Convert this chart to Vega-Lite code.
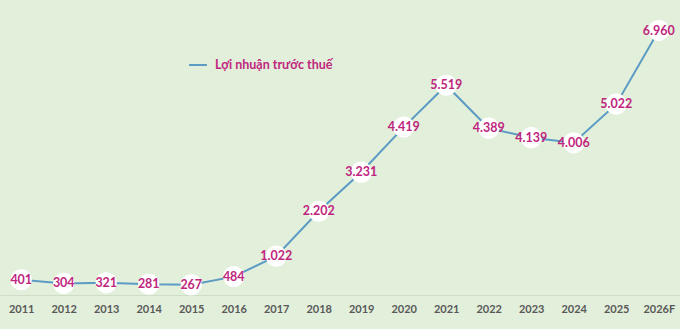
{
  "$schema": "https://vega.github.io/schema/vega-lite/v6.json",
  "width": 680,
  "height": 266,
  "autosize": {"type": "none"},
  "padding": {"left": 0, "top": 29, "right": 0, "bottom": 34},
  "background": "#e2efda",
  "config": {
    "view": {"stroke": null},
    "locale": {"number": {"decimal": ",", "thousands": ".", "grouping": [3], "currency": ["", ""]}}
  },
  "data": {
    "values": [
      {"nam": "2011", "loi_nhuan": 401},
      {"nam": "2012", "loi_nhuan": 304},
      {"nam": "2013", "loi_nhuan": 321},
      {"nam": "2014", "loi_nhuan": 281},
      {"nam": "2015", "loi_nhuan": 267},
      {"nam": "2016", "loi_nhuan": 484},
      {"nam": "2017", "loi_nhuan": 1022},
      {"nam": "2018", "loi_nhuan": 2202},
      {"nam": "2019", "loi_nhuan": 3231},
      {"nam": "2020", "loi_nhuan": 4419},
      {"nam": "2021", "loi_nhuan": 5519},
      {"nam": "2022", "loi_nhuan": 4389},
      {"nam": "2023", "loi_nhuan": 4139},
      {"nam": "2024", "loi_nhuan": 4006},
      {"nam": "2025", "loi_nhuan": 5022},
      {"nam": "2026F", "loi_nhuan": 6960}
    ]
  },
  "transform": [{"calculate": "'Lợi nhuận trước thuế'", "as": "chi_tieu"}],
  "encoding": {
    "x": {
      "field": "nam", "type": "ordinal", "sort": null,
      "scale": {"type": "point", "padding": 0.5},
      "axis": {
        "title": null, "labelAngle": 0, "ticks": false,
        "domainColor": "#cfdcc8", "domainWidth": 1,
        "labelFont": "Lato", "labelFontWeight": "bold", "labelFontSize": 11,
        "labelColor": "#595959", "labelPadding": 8
      }
    },
    "y": {
      "field": "loi_nhuan", "type": "quantitative",
      "scale": {"domain": [0, 7000], "nice": false},
      "axis": null
    }
  },
  "layer": [
    {
      "mark": {"type": "line", "strokeWidth": 2},
      "encoding": {
        "color": {
          "field": "chi_tieu", "type": "nominal",
          "scale": {"range": ["#5b9bc4"]},
          "legend": {
            "title": null, "orient": "none", "legendX": 188, "legendY": 26,
            "symbolType": "stroke", "symbolStrokeWidth": 2, "symbolSize": 320,
            "labelOffset": 7,
            "labelFont": "Lato", "labelFontWeight": "bold", "labelFontSize": 12.5,
            "labelColor": "#c0267e"
          }
        }
      }
    },
    {
      "mark": {"type": "circle", "size": 450, "color": "white", "opacity": 1}
    },
    {
      "mark": {"type": "text", "font": "Lato", "fontWeight": "bold", "fontSize": 12.5, "color": "#c0267e", "baseline": "middle"},
      "encoding": {"text": {"field": "loi_nhuan", "type": "quantitative", "format": ",d"}}
    }
  ]
}
